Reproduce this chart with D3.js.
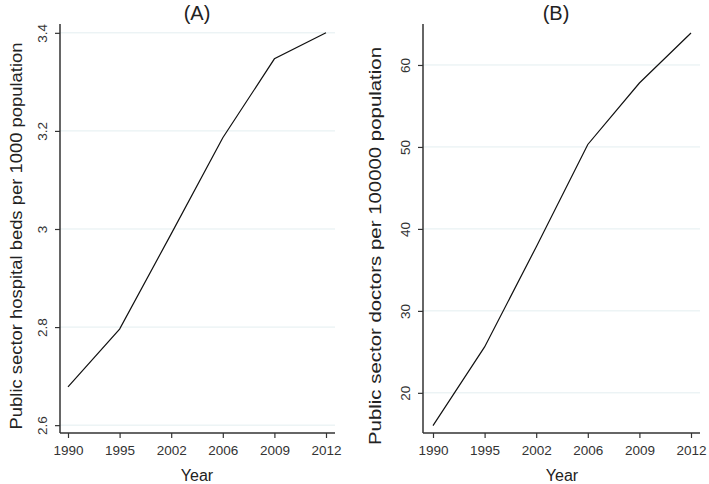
<!DOCTYPE html>
<html><head><meta charset="utf-8">
<script src="https://cdn.jsdelivr.net/npm/d3@7"></script>
<style>body{margin:0;background:#fff}svg{display:block}text{font-family:"Liberation Sans",Arial,sans-serif;fill:#222}</style>
</head><body><svg id="c" width="709" height="484"></svg>
<script>
const years = ["1990","1995","2002","2006","2009","2012"];
const bedsValues = [2.678, 2.796, 2.99, 3.186, 3.347, 3.40];
const doctorsValues = [16.0, 25.6, 37.8, 50.3, 57.8, 63.9];
const bedsTicks = [2.6, 2.8, 3, 3.2, 3.4];
const doctorsTicks = [20, 30, 40, 50, 60];

const svg = d3.select("#c");
const panels = [
  {title:"(A)", ylab:"Public sector hospital beds per 1000 population", vals:bedsValues, ticks:bedsTicks, dom:[2.584,3.418], ax:60, x0:68, x1:326, xr:335, titleX:197, ylabX:16, ylabY:236, ylabLen:387, fmt:d3.format("")},
  {title:"(B)", ylab:"Public sector doctors per 100000 population", vals:doctorsValues, ticks:doctorsTicks, dom:[15.1,65.0], ax:423, x0:433, x1:691, xr:700, titleX:556, ylabX:375, ylabY:246, ylabLen:398, fmt:d3.format("")}
];
const plotTop=24, plotBottom=433;
panels.forEach(p=>{
  const x = d3.scalePoint().domain(years).range([p.x0,p.x1]);
  const y = d3.scaleLinear().domain(p.dom).range([plotBottom,plotTop]);
  const g = svg.append("g");
  g.selectAll(".grid").data(p.ticks).enter().append("line")
    .attr("x1",p.ax).attr("x2",p.xr).attr("y1",d=>y(d)).attr("y2",d=>y(d))
    .attr("stroke","#e3eef0").attr("stroke-width",1);
  const ya = g.append("g").attr("transform",`translate(${p.ax},0)`)
    .call(d3.axisLeft(y).tickValues(p.ticks).tickSize(5).tickFormat(p.fmt));
  ya.select(".domain").remove();
  ya.append("line").attr("x1",0).attr("x2",0).attr("y1",plotTop).attr("y2",plotBottom).attr("stroke","#333").attr("stroke-width",1.5);
  ya.selectAll(".tick line").attr("stroke","#333").attr("stroke-width",1.2);
  ya.selectAll(".tick text").attr("transform","rotate(-90)").attr("x",0).attr("y",-18)
    .attr("dy","0.35em").attr("text-anchor","middle").style("font-size","13.5px").style("fill","#333");
  const xa = g.append("g").attr("transform",`translate(0,${plotBottom})`)
    .call(d3.axisBottom(x).tickSize(5));
  xa.select(".domain").remove();
  xa.append("line").attr("x1",p.ax).attr("x2",p.xr).attr("y1",0).attr("y2",0).attr("stroke","#333").attr("stroke-width",1.5);
  xa.selectAll(".tick line").attr("stroke","#333").attr("stroke-width",1.2);
  xa.selectAll(".tick text").attr("y",12).style("font-size","13.5px").style("fill","#333");
  g.append("path").datum(p.vals)
    .attr("d",d3.line().x((d,i)=>x(years[i])).y(d=>y(d)))
    .attr("fill","none").attr("stroke","#111").attr("stroke-width",1.2);
  g.append("text").attr("x",p.titleX).attr("y",20).attr("text-anchor","middle").style("font-size","20px").text(p.title);
  g.append("text").attr("x",(p.x0+p.x1)/2).attr("y",481).attr("text-anchor","middle").style("font-size","16px").text("Year");
  g.append("text").attr("transform",`translate(${p.ylabX},${p.ylabY}) rotate(-90)`)
    .attr("text-anchor","middle").attr("dy","0.35em").style("font-size","17px")
    .attr("textLength",p.ylabLen).attr("lengthAdjust","spacingAndGlyphs").text(p.ylab);
});
</script></body></html>
